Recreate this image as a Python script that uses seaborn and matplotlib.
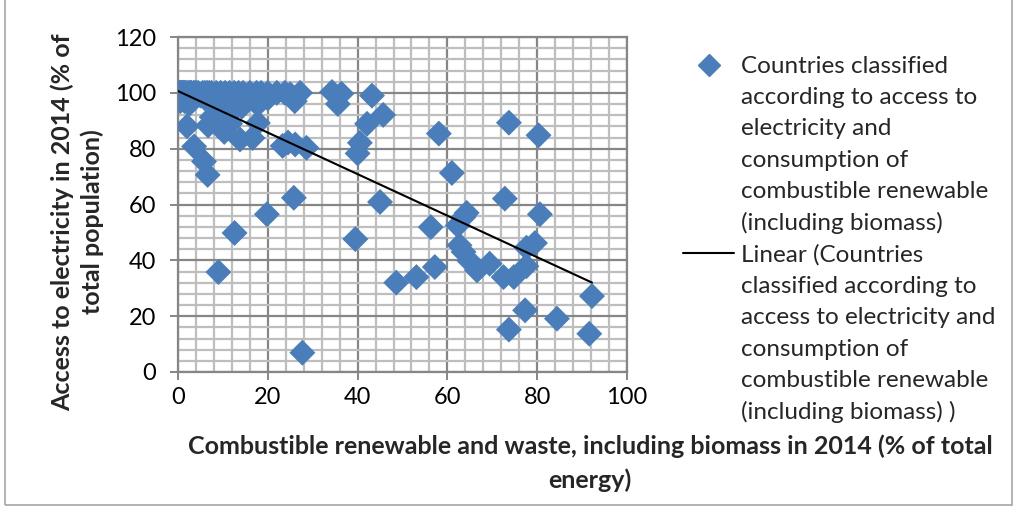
import numpy as np
import pandas as pd
import matplotlib
matplotlib.use("Agg")
import matplotlib.pyplot as plt
import seaborn as sns
from matplotlib.patches import Rectangle
from matplotlib.lines import Line2D
from matplotlib.ticker import MultipleLocator

# Combustible renewable and waste (% of total energy), 2014
biomass_pct = [
    0, 0.5, 1, 1.5, 2.5, 3.5, 4.5, 5.5, 6.5, 7.5, 8.5, 9.5, 10.5, 11.5, 12.5, 13.5, 14.5,
    16, 17.5, 18.5, 20, 22, 23.8, 25, 27.2,
    0.2, 1.2, 2.0, 3.0, 4.0, 5.0, 6.0, 7.0, 0.1, 0.8, 1.8, 2.8, 3.8,
    0.3, 0.6, 1.4, 2.2, 0.0, 0.9,
    0.5, 1.5, 2.5, 6, 9, 11, 13, 15, 17, 18.5, 20, 26,
    7.5, 9, 10.5, 12.7, 14.2,
    2.0, 6.7, 10.3, 11.6, 17.8, 13.8, 16.6, 23.3, 24.5, 26.1, 28.6,
    3.6, 5.8, 6.6,
    34.3, 36.4, 35.6, 43.2, 45.7, 42.1, 40.5, 40.0,
    25.8, 19.8, 12.6, 9.0, 27.7, 39.5, 45.0,
    48.6, 53.1, 57.2, 56.3, 58.1, 61.0, 62.3, 63.6, 64.3, 62.7, 63.6, 64.9, 66.6, 69.4,
    72.5, 74.8, 77.6, 77.6, 79.5, 80.6, 72.8, 73.7, 80.3,
    77.3, 73.7, 84.4, 91.6, 92.2,
]
# Access to electricity (% of total population), 2014
electricity_pct = [
    100, 99, 100, 100, 100, 100, 100, 100, 100, 100, 100, 100, 100, 100, 100, 100, 100,
    100, 100, 100, 100, 100, 100, 99.5, 100,
    100, 100, 99, 100, 100, 99, 100, 100, 100, 100, 100, 100, 100,
    100, 100, 100, 100, 100, 100,
    97, 97, 96, 98, 98, 97, 98, 97, 97, 97, 98, 97,
    91.3, 92, 93.7, 94.3, 95,
    88, 88.3, 86, 89, 89.2, 83.3, 83.8, 81, 82.2, 81.5, 80.3,
    80.8, 75.4, 70.6,
    100.3, 99.7, 96, 99, 92.1, 88.9, 82.1, 78.3,
    62.4, 56.5, 49.8, 35.8, 6.9, 47.6, 60.9,
    32.0, 34.0, 37.6, 51.9, 85.4, 71.3, 52.5, 55.5, 57.0, 45.4, 43.0, 39.8, 36.4, 38.8,
    34.0, 34.0, 37.9, 44.5, 46.2, 56.5, 62.1, 89.3, 84.8,
    22.1, 15.2, 19.1, 13.7, 27.2,
]

series_lines = ["Countries classified", "according to access to", "electricity and",
                "consumption of", "combustible renewable", "(including biomass)"]
trend_lines = ["Linear (Countries", "classified according to", "access to electricity and",
               "consumption of", "combustible renewable", "(including biomass) )"]
x_label = "Combustible renewable and waste, including biomass in 2014 (% of total\nenergy)"
y_label = "Access to electricity in 2014 (% of\ntotal population)"

df = pd.DataFrame({"x": biomass_pct, "y": electricity_pct})

sns.set_theme(style="white")
plt.rcParams["font.family"] = ["Lato", "DejaVu Sans"]

W, H = 1019, 523
fig = plt.figure(figsize=(W / 100, H / 100), dpi=100)
ax = fig.add_axes([178 / W, 1 - 372 / H, (627 - 178) / W, (372 - 37) / H])

blue = "#4A7EBB"
major_c = "#868686"
minor_c = "#BEBEBE"

sns.scatterplot(data=df, x="x", y="y", ax=ax, marker="D", s=175, color=blue,
                edgecolor="none", linewidth=0, zorder=3, legend=False)

slope, intercept = np.polyfit(df["x"], df["y"], 1)
xs = np.array([df["x"].min(), df["x"].max()])
sns.lineplot(x=xs, y=intercept + slope * xs, ax=ax, color="black", linewidth=1.5,
             zorder=4, legend=False)

ax.set_xlim(0, 100)
ax.set_ylim(0, 120)
ax.xaxis.set_major_locator(MultipleLocator(20))
ax.yaxis.set_major_locator(MultipleLocator(20))
ax.xaxis.set_minor_locator(MultipleLocator(4))
ax.yaxis.set_minor_locator(MultipleLocator(4))
ax.grid(which="minor", color=minor_c, linewidth=1.6, zorder=0)
ax.grid(which="major", color=major_c, linewidth=1.6, zorder=1)
ax.set_axisbelow(True)
for sp in ax.spines.values():
    sp.set_visible(True)
    sp.set_color(major_c)
    sp.set_linewidth(1.6)
ax.tick_params(which="major", direction="out", length=6, width=1.4, color=major_c,
               labelsize=17, labelcolor="black", left=True, bottom=True)
ax.tick_params(axis="y", pad=10)
ax.tick_params(axis="x", pad=5)
ax.tick_params(which="minor", length=0)

ax.set_xlabel(x_label, fontsize=18, fontweight="bold", linespacing=1.55)
ax.set_ylabel(y_label, fontsize=18, fontweight="bold", linespacing=1.3)
ax.xaxis.set_label_coords((590 - 178) / (627 - 178), (372 - 434) / (372 - 37))
ax.yaxis.set_label_coords((104 - 178) / (627 - 178), (372 - 222) / (372 - 37))

blank = Line2D([], [], linestyle="none")
handles = ([Line2D([], [], marker="D", color=blue, linestyle="none", markersize=11)]
           + [blank] * (len(series_lines) - 1)
           + [Line2D([], [], color="black", linewidth=1.5)]
           + [blank] * (len(trend_lines) - 1))
fig.legend(handles, series_lines + trend_lines, loc="upper left",
           bbox_to_anchor=(683 / W, 1 - 56 / H), frameon=False, fontsize=17.5,
           handlelength=2.1, handletextpad=0.3, labelspacing=0.42,
           borderpad=0, borderaxespad=0)

fig.add_artist(Rectangle((5 / W, 1 - 505 / H), (1012 - 5) / W, 1.0, transform=fig.transFigure,
                         fill=False, edgecolor="#A6A6A6", linewidth=1.2))

fig.savefig("out.png", dpi=100)
